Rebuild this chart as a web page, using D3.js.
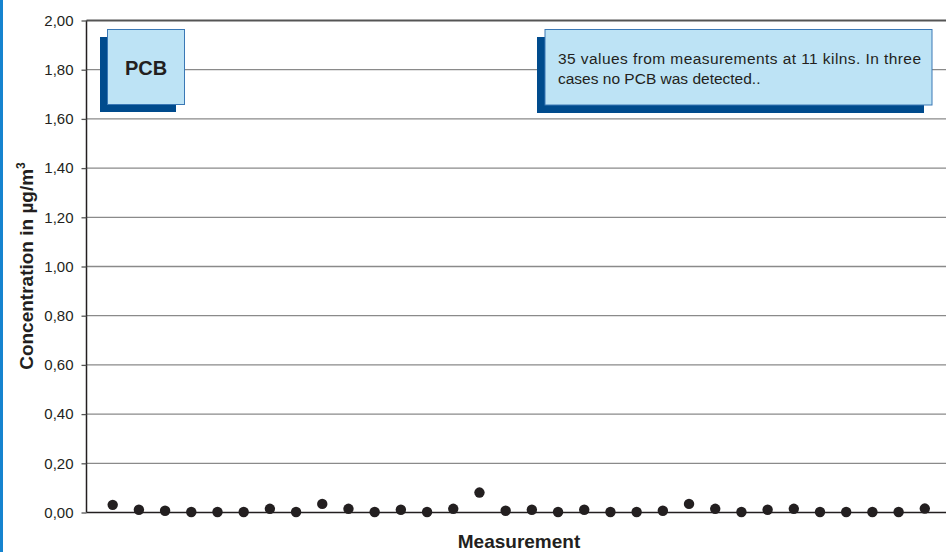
<!DOCTYPE html>
<html><head><meta charset="utf-8">
<script src="https://cdn.jsdelivr.net/npm/d3@7"></script>
<style>
html,body{margin:0;padding:0;background:#fff;overflow:hidden}
svg{display:block;font-family:"Liberation Sans",Arial,sans-serif}
</style></head><body>
<svg id="c" width="946" height="552"></svg>
<script>
// Data
const measurements = d3.range(1, 33);
const values = [0.031,0.011,0.007,0.002,0.002,0.002,0.015,0.002,0.035,0.015,0.002,0.011,0.002,0.015,
  0.081,0.007,0.011,0.002,0.011,0.002,0.002,0.007,0.035,0.015,0.002,0.011,0.015,0.002,0.002,0.002,0.002,0.016];
const yTicks = [0,0.2,0.4,0.6,0.8,1.0,1.2,1.4,1.6,1.8,2.0];
const titleBox = "PCB";
const noteLines = ["35 values from measurements at 11 kilns. In three","cases no PCB was detected.."];
const yTitle = "Concentration in µg/m";
const xTitle = "Measurement";

const svg = d3.select("#c");
const x = d3.scaleLinear().domain([0,33]).range([86.5,951]);
const y = d3.scaleLinear().domain([0,2]).range([512.5,20.5]);

// left blue stripe
svg.append("rect").attr("x",0).attr("y",0).attr("width",3).attr("height",552).attr("fill","#1583cf");

// gridlines
svg.append("g").selectAll("line").data(yTicks.filter(d=>d>0 && d<2)).join("line")
  .attr("x1",86.5).attr("x2",946).attr("y1",d=>y(d)).attr("y2",d=>y(d))
  .attr("stroke","#8a8a8a").attr("stroke-width",1.3);
// top frame
svg.append("line").attr("x1",86.5).attr("x2",946).attr("y1",y(2)).attr("y2",y(2))
  .attr("stroke","#555").attr("stroke-width",2);

// y axis
const yAxis = d3.axisLeft(y).tickValues(yTicks).tickSize(5).tickPadding(8)
  .tickFormat(d=>d3.format(".2f")(d).replace(".",","));
const ga = svg.append("g").attr("transform","translate(86.5,0)").call(yAxis);
ga.select(".domain").attr("stroke","#231f20").attr("stroke-width",1.5).attr("d","M0,"+y(2)+"V"+y(0));
ga.selectAll(".tick line").attr("stroke","#555").attr("stroke-width",1.3);
ga.selectAll(".tick text").attr("font-size","15px").attr("fill","#231f20")
  .attr("font-family","'Liberation Sans',Arial,sans-serif");

// x baseline
svg.append("line").attr("x1",86.5).attr("x2",946).attr("y1",y(0)).attr("y2",y(0))
  .attr("stroke","#231f20").attr("stroke-width",1.5);

// points
svg.append("g").selectAll("circle").data(values).join("circle")
  .attr("cx",(d,i)=>x(measurements[i])).attr("cy",d=>y(d)).attr("r",5.2).attr("fill","#231f20");

// PCB box
svg.append("rect").attr("x",100).attr("y",37).attr("width",76).attr("height",75).attr("fill","#004b8d");
svg.append("rect").attr("x",107.5).attr("y",29.5).attr("width",77).attr("height",75)
  .attr("fill","#bde3f5").attr("stroke","#3a78b5").attr("stroke-width",1);
svg.append("text").attr("x",146).attr("y",75).attr("text-anchor","middle")
  .attr("font-size","20px").attr("font-weight","bold").attr("fill","#231f20").text(titleBox);

// note box
svg.append("rect").attr("x",537).attr("y",37).attr("width",387).attr("height",76).attr("fill","#004b8d");
svg.append("rect").attr("x",545).attr("y",29.5).attr("width",387).attr("height",75.5)
  .attr("fill","#bde3f5").attr("stroke","#3a78b5").attr("stroke-width",1);
const nt = svg.append("g").attr("font-size","15.5px").attr("fill","#231f20");
nt.append("text").attr("x",558).attr("y",64).attr("textLength",363).attr("lengthAdjust","spacing").text(noteLines[0]);
nt.append("text").attr("x",558).attr("y",84).text(noteLines[1]);

// axis titles
const yt = svg.append("text").attr("transform","translate(33,266) rotate(-90)").attr("text-anchor","middle")
  .attr("font-size","19px").attr("font-weight","bold").attr("fill","#231f20");
yt.append("tspan").text(yTitle);
yt.append("tspan").attr("dy",-8).attr("font-size","12px").text("3");
svg.append("text").attr("x",519).attr("y",548).attr("text-anchor","middle")
  .attr("font-size","19px").attr("font-weight","bold").attr("fill","#231f20").text(xTitle);
</script>
</body></html>
